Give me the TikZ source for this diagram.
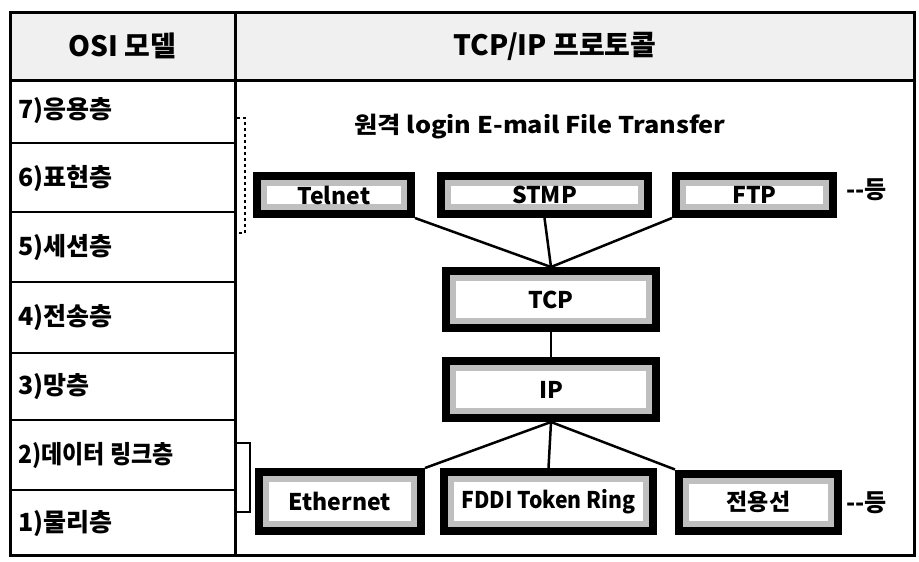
\documentclass[tikz,border=0pt]{standalone}
\usepackage{fontspec}
\usepackage{graphicx}
\setmainfont{Noto Sans CJK KR}
\begin{document}
\begin{tikzpicture}[x=1pt,y=-1pt,
  frameline/.style={draw=black, line width=3pt},
  thinline/.style={draw=black, line width=2.5pt},
  layer/.style={anchor=west, font=\fontsize{25}{27}\selectfont\bfseries, inner sep=0pt},
  hdrtext/.style={font=\fontsize{28}{30}\selectfont\bfseries, inner sep=0pt},
  protobox/.style={draw=black, line width=8pt, fill=gray!50, inner sep=0pt,
    font=\fontsize{23}{25}\selectfont\bfseries,
    path picture={\fill[white] ([shift={(10pt,-10pt)}]path picture bounding box.north west) rectangle ([shift={(-10pt,10pt)}]path picture bounding box.south east);}},
  conn/.style={draw=black, line width=2.5pt},
  etc/.style={font=\fontsize{24}{26}\selectfont\bfseries, inner sep=0pt, anchor=west}
]
\useasboundingbox (0,0) rectangle (919,562);
\fill[white] (0,0) rectangle (919,562);
% header
\fill[gray!12] (10,12) rectangle (914,80);
\draw[frameline] (10,12) rectangle (914,555);
\draw[frameline] (10,80) -- (914,80);
\draw[frameline] (235,12) -- (235,555);
% left column row lines
\foreach \yy in {143,212,282,353,420,490} {\draw[thinline] (10,\yy) -- (235,\yy);}
% header texts
\node[hdrtext] (osi) at (122,46) {OSI 모델};
\node[hdrtext] (tcpip) at (555,46) {TCP/IP 프로토콜};
% layers
\node[layer] (l7) at (18,111) {7)응용층};
\node[layer] (l6) at (18,178) {6)표현층};
\node[layer] (l5) at (18,248) {5)세션층};
\node[layer] (l4) at (18,318) {4)전송층};
\node[layer] (l3) at (18,387) {3)망층};
\node[layer] (l2) at (18,455) {\scalebox{0.92}[1]{2)데이터 링크층}};
\node[layer] (l1) at (18,523) {1)물리층};
% brackets
\draw[black, line width=2pt, dashed] (237,118) -- (245,118) -- (245,233) -- (237,233);
\draw[black, line width=2pt] (237,443) -- (250,443) -- (250,512) -- (237,512);
% app label
\node[font=\fontsize{23}{25}\selectfont\bfseries, inner sep=0pt] (apps) at (540,127) {\scalebox{1.1}[1]{원격 login E-mail File Transfer}};
% protocol boxes
\node[protobox, minimum width=154pt, minimum height=38pt] (telnet) at (334,195) {Telnet};
\node[protobox, minimum width=207pt, minimum height=38pt] (smtp) at (544.5,195) {STMP};
\node[protobox, minimum width=157pt, minimum height=38pt] (ftp) at (754.5,195) {FTP};
\node[protobox, minimum width=210pt, minimum height=57pt] (tcp) at (551,299.5) {TCP};
\node[protobox, minimum width=210pt, minimum height=57pt] (ip) at (551,389.5) {IP};
\node[protobox, minimum width=162pt, minimum height=59pt] (eth) at (340,501.5) {Ethernet};
\node[protobox, minimum width=209pt, minimum height=59pt] (fddi) at (548.5,501.5) {\scalebox{0.92}[1]{FDDI Token Ring}};
\node[protobox, minimum width=159pt, minimum height=57pt] (lease) at (758.5,502) {전용선};
% etc labels
\node[etc] (etc1) at (846,190) {-{}-등};
\node[etc] (etc2) at (846,503) {-{}-등};
% connectors
\draw[conn] (telnet.south east) -- (tcp.north);
\draw[conn] (smtp.south) -- (tcp.north);
\draw[conn] (ftp.south west) -- (tcp.north);
\draw[conn] (tcp.south) -- (ip.north);
\draw[conn] (ip.south) -- (eth.north east);
\draw[conn] (ip.south) -- (fddi.north);
\draw[conn] (ip.south) -- (lease.north west);
\end{tikzpicture}
\end{document}
